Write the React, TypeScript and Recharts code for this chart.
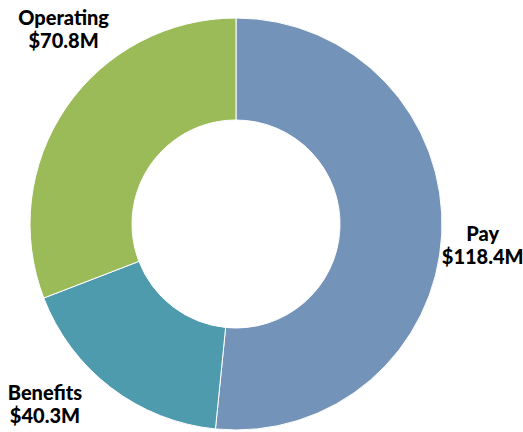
import { PieChart, Pie, Cell } from 'recharts'

const categories = ['Pay', 'Benefits', 'Operating']
const amounts = [118.4, 40.3, 70.8]
const valueLabels = ['$118.4M', '$40.3M', '$70.8M']
const colors = ['#7493B8', '#4F9BAE', '#9BBB59']

// small per-label nudges so the text sits where the original put it
const labelNudge = [[-7, 13], [-37, -17], [37, -46]]

const RADIAN = Math.PI / 180

const data = categories.map((name, i) => ({ name, value: amounts[i], label: valueLabels[i] }))

function renderLabel(props: any) {
  const { cx, cy, midAngle, outerRadius, index } = props
  const r = outerRadius + 48
  const x = cx + r * Math.cos(-midAngle * RADIAN) + labelNudge[index][0]
  const y = cy + r * Math.sin(-midAngle * RADIAN) + labelNudge[index][1]
  return (
    <text
      x={x}
      y={y}
      textAnchor="middle"
      fill="#000"
      style={{ fontFamily: 'Lato, "Open Sans", sans-serif', fontWeight: 900, fontSize: 20 }}
    >
      <tspan x={x} dy={-9}>{categories[index]}</tspan>
      <tspan x={x} dy={23}>{valueLabels[index]}</tspan>
    </text>
  )
}

export default function App() {
  return (
    <div style={{ position: 'fixed', left: 0, top: 0, width: 523, height: 432, background: '#fff' }}>
      <PieChart width={523} height={432} margin={{ top: 0, right: 0, bottom: 0, left: 0 }}>
        <Pie
          data={data}
          dataKey="value"
          nameKey="name"
          cx={236}
          cy={224}
          innerRadius={104}
          outerRadius={206}
          startAngle={90}
          endAngle={-270}
          stroke="#fff"
          strokeWidth={1}
          label={renderLabel}
          labelLine={false}
          isAnimationActive={false}
        >
          {data.map((d, i) => (
            <Cell key={d.name} fill={colors[i]} />
          ))}
        </Pie>
      </PieChart>
    </div>
  )
}
